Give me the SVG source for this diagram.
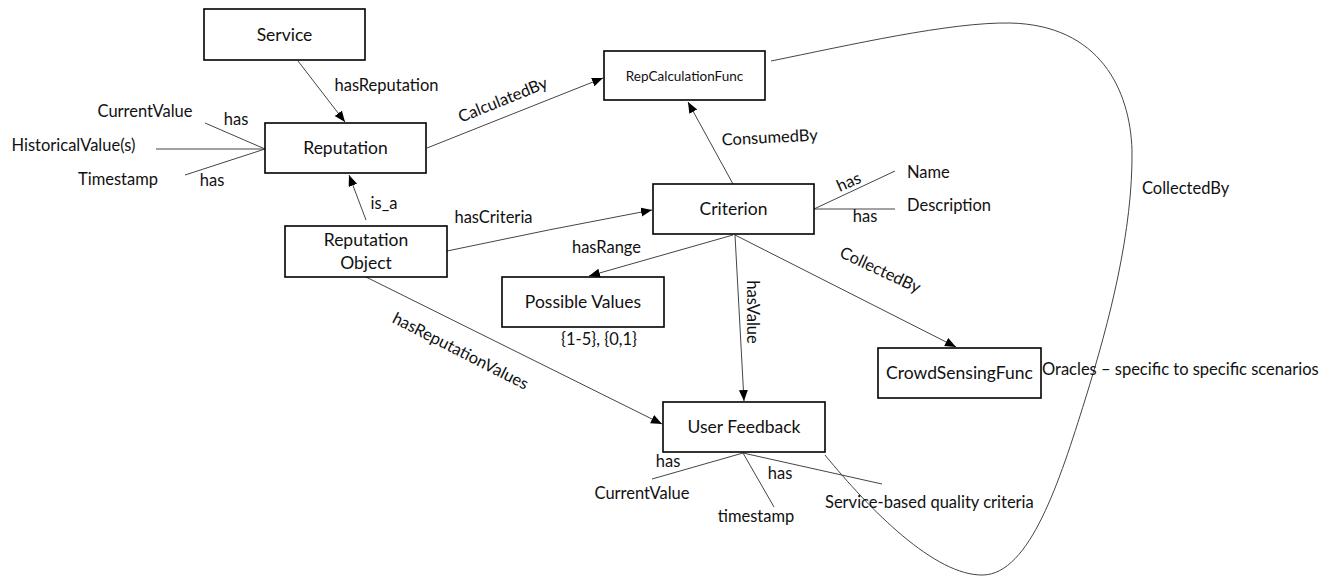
<svg xmlns="http://www.w3.org/2000/svg" width="1333" height="576" viewBox="0 0 1333 576">
<style>
.box{fill:#fff;stroke:#000;stroke-width:1.6}
.nt{font-family:Lato,"Liberation Sans",sans-serif;font-size:17.5px;fill:#111;text-anchor:middle}
.lb{font-family:Lato,"Liberation Sans",sans-serif;font-size:16.5px;fill:#111}
.m{text-anchor:middle}
.ln{fill:none;stroke:#444;stroke-width:1}
</style>
<defs>
<marker id="arr" markerUnits="userSpaceOnUse" markerWidth="12" markerHeight="10" refX="11" refY="4.5" orient="auto">
<path d="M0,0 L11,4.5 L0,9 z" fill="#000"/>
</marker>
</defs>
<rect width="1333" height="576" fill="#fff"/>
<g id="connectors">
<path class="ln" d="M298,61 L345,122" marker-end="url(#arr)"/>
<path class="ln" d="M427,148 L603,78" marker-end="url(#arr)"/>
<path class="ln" d="M733,184 L688,102" marker-end="url(#arr)"/>
<path class="ln" d="M366,220 L349,175" marker-end="url(#arr)"/>
<path class="ln" d="M447,251 Q550,229 652,210" marker-end="url(#arr)"/>
<path class="ln" d="M733,235 L589,276" marker-end="url(#arr)"/>
<path class="ln" d="M735,235 L744,401" marker-end="url(#arr)"/>
<path class="ln" d="M735,235 L956,347" marker-end="url(#arr)"/>
<path class="ln" d="M366,277 L662,424" marker-end="url(#arr)"/>
<path class="ln" d="M205,123 L265,149 M156,149 L265,149 M185,175 L265,149"/>
<path class="ln" d="M814,209 L895,171 M814,209 L895,209"/>
<path class="ln" d="M743,453 L652,479 M743,453 L774,507 M743,453 L882,484"/>
<path class="ln" d="M771,61 C850,45 950,22 1010,23 C1100,25 1130,90 1132,150 C1133,230 1110,320 1085,400 C1060,480 1030,574 983,575 C935,576 870,510 825,455"/>
<text class="lb m" x="386.5" y="91">hasReputation</text>
<text class="lb m" x="145" y="117">CurrentValue</text>
<text class="lb m" x="236" y="125">has</text>
<text class="lb m" x="73.5" y="151">HistoricalValue(s)</text>
<text class="lb m" x="118" y="185">Timestamp</text>
<text class="lb m" x="212" y="186">has</text>
<text class="lb m" x="384" y="209">is_a</text>
<text class="lb m" x="505" y="105" transform="rotate(-22 505 105)">CalculatedBy</text>
<text class="lb m" x="770" y="143" transform="rotate(-3 770 143)">ConsumedBy</text>
<text class="lb m" x="493.5" y="223">hasCriteria</text>
<text class="lb m" x="606.5" y="253">hasRange</text>
<text class="lb m" x="851" y="187" transform="rotate(-24 851 187)">has</text>
<text class="lb m" x="865" y="222">has</text>
<text class="lb" x="907" y="178">Name</text>
<text class="lb" x="907" y="211">Description</text>
<text class="lb" x="1142" y="194">CollectedBy</text>
<text class="lb m" x="747" y="312" transform="rotate(90 747 312)">hasValue</text>
<text class="lb m" x="599" y="345">{1-5}, {0,1}</text>
<text class="lb m" x="878" y="275" transform="rotate(25 878 275)">CollectedBy</text>
<text class="lb" x="1042" y="375">Oracles – specific to specific scenarios</text>
<text class="lb m" x="458" y="356" transform="rotate(27 458 356)">hasReputationValues</text>
<text class="lb m" x="668" y="467">has</text>
<text class="lb m" x="780" y="479">has</text>
<text class="lb m" x="642" y="499">CurrentValue</text>
<text class="lb m" x="756" y="522">timestamp</text>
<text class="lb" x="825" y="508">Service-based quality criteria</text>
</g>
<g id="service"><rect class="box" x="204" y="9" width="161" height="51"/><text class="nt" x="284.5" y="41">Service</text></g>
<g id="reputation"><rect class="box" x="265" y="123" width="161" height="50"/><text class="nt" x="345.5" y="154">Reputation</text></g>
<g id="repcalc"><rect class="box" x="604" y="51" width="161" height="49"/><text class="nt" x="684.5" y="80.5" style="font-size:13.5px">RepCalculationFunc</text></g>
<g id="criterion"><rect class="box" x="653" y="184" width="161" height="50"/><text class="nt" x="733.5" y="215">Criterion</text></g>
<g id="repobject"><rect class="box" x="285" y="226" width="162" height="51"/><text class="nt" x="366" y="246">Reputation</text><text class="nt" x="366" y="269">Object</text></g>
<g id="possiblevalues"><rect class="box" x="502" y="277" width="162" height="50"/><text class="nt" x="583" y="308">Possible Values</text></g>
<g id="crowdsensing"><rect class="box" x="878" y="348" width="163" height="50"/><text class="nt" x="959.5" y="379">CrowdSensingFunc</text></g>
<g id="userfeedback"><rect class="box" x="663" y="402" width="162" height="50"/><text class="nt" x="744" y="433">User Feedback</text></g>
</svg>
